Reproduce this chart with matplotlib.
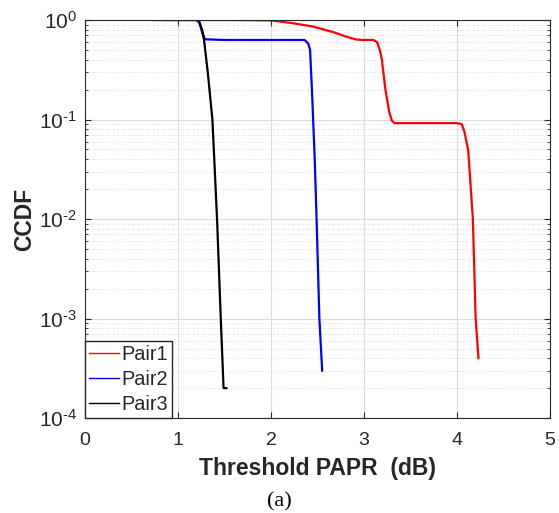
import numpy as np
import matplotlib.pyplot as plt
from matplotlib.ticker import FixedLocator, FixedFormatter, LogLocator, NullFormatter

plt.rcParams["font.family"] = ["Liberation Sans", "DejaVu Sans"]
plt.rcParams["mathtext.fontset"] = "custom"
plt.rcParams["mathtext.rm"] = "Liberation Sans"
plt.rcParams["axes.unicode_minus"] = False

# curves
pair1_x = [1.21, 1.6, 2.0, 2.23, 2.45, 2.68, 2.81, 2.92, 3.0, 3.1, 3.14, 3.17, 3.19,
           3.23, 3.27, 3.30, 3.33, 3.5, 4.0, 4.05, 4.08, 4.12, 4.17, 4.2, 4.23]
pair1_y = [1.0, 1.0, 0.99, 0.93, 0.86, 0.75, 0.68, 0.635, 0.63, 0.63, 0.60, 0.50, 0.41,
           0.2, 0.12, 0.097, 0.092, 0.092, 0.092, 0.09, 0.075, 0.049, 0.01, 0.001, 0.0004]

pair2_x = [0.73, 1.0, 1.2, 1.23, 1.26, 1.29, 1.5, 2.0, 2.36, 2.40, 2.42, 2.44, 2.47,
           2.49, 2.52, 2.55]
pair2_y = [1.0, 1.0, 1.0, 0.95, 0.75, 0.64, 0.63, 0.63, 0.63, 0.58, 0.5, 0.2, 0.04,
           0.01, 0.001, 0.0003]

pair3_x = [0.84, 1.0, 1.2, 1.23, 1.26, 1.28, 1.32, 1.37, 1.39, 1.42, 1.46, 1.49, 1.52]
pair3_y = [1.0, 1.0, 1.0, 0.95, 0.79, 0.63, 0.3, 0.1, 0.04, 0.01, 0.001, 0.0002, 0.0002]

xticks = [0, 1, 2, 3, 4, 5]
yticks = [1e-4, 1e-3, 1e-2, 1e-1, 1e0]
ytick_labels = [r"$\mathregular{10^{\text{-}4}}$", r"$\mathregular{10^{\text{-}3}}$",
                r"$\mathregular{10^{\text{-}2}}$", r"$\mathregular{10^{\text{-}1}}$",
                r"$\mathregular{10^{0}}$"]

txt = "#262626"

fig = plt.figure(figsize=(5.59, 5.13), dpi=100)
ax = fig.add_axes([0.152, 0.185, 0.832, 0.776])

ax.semilogy(pair1_x, pair1_y, color="#ff0000", lw=1.6, label="Pair1")
ax.semilogy(pair2_x, pair2_y, color="#0000ff", lw=1.6, label="Pair2")
ax.semilogy(pair3_x, pair3_y, color="#000000", lw=1.6, label="Pair3")

ax.set_xlim(0, 5)
ax.set_ylim(1e-4, 1)
ax.xaxis.set_major_locator(FixedLocator(xticks))
ax.yaxis.set_major_locator(FixedLocator(yticks))
ax.yaxis.set_major_formatter(FixedFormatter(ytick_labels))
ax.yaxis.set_minor_locator(LogLocator(base=10, subs=np.arange(2, 10)))
ax.yaxis.set_minor_formatter(NullFormatter())

ax.grid(True, which="major", color="#dcdcdc", lw=0.8, ls="-")
ax.grid(True, which="minor", axis="y", color="#d0d0d0", lw=0.6, ls=(0, (1, 2)))
ax.set_axisbelow(True)

ax.tick_params(which="both", direction="in", top=True, right=True, colors=txt)
ax.tick_params(axis="x", labelsize=14, pad=10)
ax.tick_params(axis="y", labelsize=15, pad=6)
ax.tick_params(which="major", length=4)
ax.tick_params(which="minor", length=2)
for s in ax.spines.values():
    s.set_color(txt)
    s.set_linewidth(0.8)

ax.set_xlabel("Threshold PAPR  (dB)", fontsize=16.5, fontweight="bold", color=txt,
              labelpad=6)
ax.set_ylabel("CCDF", fontsize=16.5, fontweight="bold", color=txt, labelpad=2)

leg = ax.legend(loc="lower left", fontsize=14.3, borderaxespad=0, handlelength=1.5,
                handletextpad=0.15, labelspacing=0.3, fancybox=False,
                edgecolor=txt, framealpha=1, borderpad=0.2)
for line in leg.get_lines():
    line.set_linewidth(1.0)
for t in leg.get_texts():
    t.set_color(txt)

fig.text(0.5, 0.022, "(a)", ha="center", va="center", fontsize=16,
         family="Liberation Serif", color="black")

fig.savefig("out.png", dpi=100)
